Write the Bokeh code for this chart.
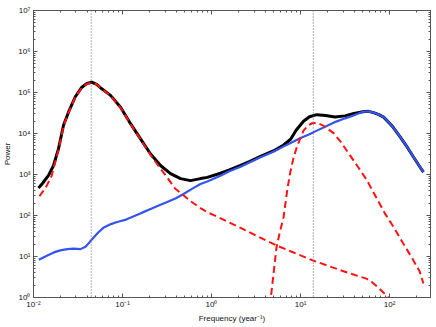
import numpy as np
from bokeh.plotting import figure
from bokeh.models import LogAxis, FixedTicker, Range1d, Span
from bokeh.embed import file_html
from bokeh.resources import INLINE

# ---- data (stored as log10 values) ----
# total spectrum (black)
total_logf = [-1.944, -1.90, -1.831, -1.775, -1.719, -1.663, -1.607, -1.532, -1.457, -1.40,
              -1.345, -1.29, -1.233, -1.135, -1.022, -0.910, -0.798, -0.685, -0.573, -0.461,
              -0.348, -0.236, -0.124, -0.048, 0.10, 0.20, 0.326, 0.431, 0.55, 0.70,
              0.81, 0.888, 0.95, 1.033, 1.10, 1.183, 1.28, 1.386, 1.50, 1.60,
              1.70, 1.764, 1.82, 1.88, 1.933, 2.03, 2.12, 2.20, 2.27, 2.33, 2.38]
total_logp = [2.67, 2.78, 2.98, 3.22, 3.63, 4.20, 4.52, 4.89, 5.13, 5.22,
              5.25, 5.20, 5.09, 4.93, 4.64, 4.24, 3.87, 3.50, 3.22, 3.02,
              2.90, 2.85, 2.90, 2.93, 3.03, 3.11, 3.22, 3.32, 3.44, 3.58,
              3.72, 3.86, 4.08, 4.30, 4.41, 4.46, 4.44, 4.40, 4.43, 4.49,
              4.53, 4.54, 4.51, 4.46, 4.40, 4.18, 3.91, 3.66, 3.42, 3.22, 3.06]

# background continuum (blue)
cont_logf = [-1.94, -1.85, -1.772, -1.70, -1.621, -1.55, -1.472, -1.416, -1.37, -1.322,
             -1.27, -1.21, -1.13, -1.06, -0.96, -0.873, -0.78, -0.685, -0.60, -0.498,
             -0.40, -0.311, -0.22, -0.124, -0.048, 0.10, 0.20, 0.326, 0.431, 0.55,
             0.70, 0.806, 0.888, 1.00, 1.10, 1.183, 1.30, 1.40, 1.50, 1.558,
             1.65, 1.70, 1.764, 1.82, 1.88, 1.933, 2.03, 2.12, 2.20, 2.27, 2.33, 2.38]
cont_logp = [0.92, 1.02, 1.10, 1.15, 1.18, 1.19, 1.18, 1.24, 1.35, 1.47,
             1.59, 1.71, 1.79, 1.84, 1.90, 1.98, 2.07, 2.16, 2.24, 2.33,
             2.42, 2.53, 2.65, 2.77, 2.83, 2.97, 3.08, 3.19, 3.30, 3.42,
             3.56, 3.68, 3.77, 3.89, 3.98, 4.07, 4.19, 4.29, 4.37, 4.41,
             4.49, 4.53, 4.54, 4.51, 4.46, 4.40, 4.18, 3.91, 3.66, 3.42, 3.22, 3.06]

# low-frequency peak component (red dashed)
low_logf = [-1.933, -1.89, -1.85, -1.794, -1.775, -1.719, -1.663, -1.607, -1.532, -1.457,
            -1.40, -1.345, -1.29, -1.233, -1.135, -1.022, -0.910, -0.798, -0.685, -0.60,
            -0.517, -0.41, -0.236, -0.124, -0.048, 0.056, 0.20, 0.326, 0.50, 0.73,
            0.95, 1.143, 1.35, 1.55, 1.739, 1.80, 1.87, 1.93, 1.985, 2.02]
low_logp = [2.47, 2.60, 2.73, 2.98, 3.15, 3.60, 4.18, 4.51, 4.88, 5.12,
            5.21, 5.24, 5.20, 5.09, 4.92, 4.63, 4.23, 3.86, 3.48, 3.22,
            2.98, 2.66, 2.35, 2.18, 2.08, 1.98, 1.83, 1.70, 1.51, 1.27,
            1.07, 0.90, 0.74, 0.59, 0.46, 0.38, 0.25, 0.12, 0.0, -0.08]

# high-frequency peak component (red dashed)
high_logf = [0.655, 0.666, 0.70, 0.73, 0.77, 0.809, 0.85, 0.884, 0.92, 0.958,
             1.00, 1.033, 1.08, 1.13, 1.183, 1.25, 1.30, 1.37, 1.45, 1.558,
             1.65, 1.745, 1.85, 1.95, 2.05, 2.15, 2.25, 2.337, 2.38]
high_logp = [-0.2, 0.0, 0.65, 1.23, 1.62, 1.96, 2.62, 3.05, 3.40, 3.67,
             3.90, 4.07, 4.19, 4.25, 4.26, 4.20, 4.12, 4.01, 3.80, 3.46,
             3.17, 2.86, 2.44, 2.04, 1.70, 1.33, 0.97, 0.64, 0.34]

# dotted reference frequencies (year^-1)
marker_freqs = [0.0445, 13.9]

x_ticks = [0.01, 0.1, 1.0, 10.0, 100.0]
x_labels = ["10\u207b\u00b2", "10\u207b\u00b9", "10\u2070", "10\u00b9", "10\u00b2"]
y_ticks = [1.0, 10.0, 100.0, 1e3, 1e4, 1e5, 1e6, 1e7]
y_labels = ["10\u2070", "10\u00b9", "10\u00b2", "10\u00b3", "10\u2074", "10\u2075", "10\u2076", "10\u2077"]


def pw(a):
    return np.power(10.0, np.array(a, dtype=float))


FONT = "Liberation Sans"
AX_COL = "#555555"

p = figure(width=436, height=327, x_axis_type="log", y_axis_type="log",
           x_range=Range1d(0.01, 288), y_range=Range1d(1, 1e7),
           output_backend="svg", toolbar_location=None,
           min_border_left=33, min_border_right=6, min_border_top=10, min_border_bottom=30)
p.grid.visible = False
p.outline_line_color = AX_COL
p.background_fill_color = "white"

x_minor = [m * t for t in [0.01, 0.1, 1, 10, 100] for m in range(2, 10)]
y_minor = [m * t for t in y_ticks[:-1] for m in range(2, 10)]
xt = FixedTicker(ticks=x_ticks, minor_ticks=x_minor)
yt = FixedTicker(ticks=y_ticks, minor_ticks=y_minor)


def style(ax, labels):
    ax.axis_line_color = AX_COL
    ax.major_tick_line_color = AX_COL
    ax.minor_tick_line_color = AX_COL
    ax.major_tick_in = 4
    ax.major_tick_out = 0
    ax.minor_tick_in = 2
    ax.minor_tick_out = 0
    ax.major_label_text_font = FONT
    ax.major_label_text_font_size = "8px"
    ax.major_label_text_color = "#111111"
    ax.axis_label_text_font = FONT
    ax.axis_label_text_font_size = "8px"
    ax.axis_label_text_font_style = "normal"
    ax.axis_label_text_color = "#111111"
    if not labels:
        ax.major_label_text_font_size = "1px"
        ax.major_label_text_alpha = 0
        ax.major_label_standoff = 0


xa = p.xaxis[0]
xa.ticker = xt
xa.major_label_overrides = dict(zip(x_ticks, x_labels))
xa.axis_label = "Frequency (year\u207b\u00b9)"
xa.major_label_standoff = 2
xa.axis_label_standoff = 2
style(xa, True)

ya = p.yaxis[0]
ya.ticker = yt
ya.major_label_overrides = dict(zip(y_ticks, y_labels))
ya.axis_label = "Power"
ya.major_label_standoff = 3
ya.axis_label_standoff = 3
style(ya, True)

top = LogAxis(ticker=xt)
style(top, False)
p.add_layout(top, "above")
right = LogAxis(ticker=yt)
style(right, False)
p.add_layout(right, "right")

for f in marker_freqs:
    p.add_layout(Span(location=f, dimension="height", line_color="#666666",
                      line_width=1, line_dash="1 2"))

p.line(pw(total_logf), pw(total_logp), line_color="black", line_width=3)
p.line(pw(cont_logf), pw(cont_logp), line_color="#3355ee", line_width=2.2)
p.line(pw(low_logf), pw(low_logp), line_color="#ff1111", line_width=2, line_dash="7 4")
p.line(pw(high_logf), pw(high_logp), line_color="#ff1111", line_width=2, line_dash="7 4")

open("out.html", "w").write(file_html(p, INLINE))
